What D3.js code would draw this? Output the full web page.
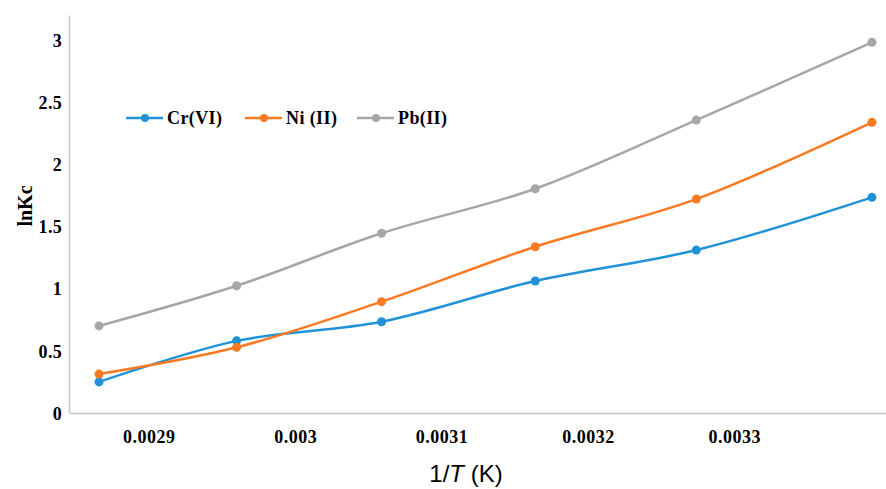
<!DOCTYPE html>
<html>
<head>
    <title>lnKc vs 1/T</title>
    <script src="https://d3js.org/d3.v7.min.js"></script>
    <style>
        body { margin: 0; background: #fff; }
        text { font-family: "Liberation Serif", "Times New Roman", serif; font-weight: bold; fill: #000; }
    </style>
</head>
<body>
    <svg id="chart" width="886" height="489"></svg>

    <script>
        // data
        const invT = [0.002866, 0.00296, 0.003059, 0.003164, 0.003274, 0.003394];
        const crVI = [0.25, 0.58, 0.734, 1.061, 1.31, 1.734];
        const niII = [0.313, 0.528, 0.895, 1.337, 1.72, 2.337];
        const pbII = [0.70, 1.023, 1.445, 1.803, 2.355, 2.98];
        const seriesNames = ["Cr(VI)", "Ni (II)", "Pb(II)"];
        const xTicks = [0.0029, 0.003, 0.0031, 0.0032, 0.0033];
        const yTicks = [0, 0.5, 1, 1.5, 2, 2.5, 3];

        const colors = ["#2192d8", "#fa7a24", "#a6a6a6"];
        const series = [crVI, niII, pbII].map((vals, i) => ({
            name: seriesNames[i],
            color: colors[i],
            points: vals.map((v, j) => ({ x: invT[j], y: v }))
        }));

        const svg = d3.select("#chart");
        const x = d3.scaleLinear().domain([0.0028455, 0.0034036]).range([69, 886]);
        const y = d3.scaleLinear().domain([0, 3.2]).range([413, 15]);

        // axes (no ticks, light grey lines)
        svg.append("g")
            .attr("transform", "translate(0,413)")
            .call(d3.axisBottom(x).tickValues(xTicks).tickSize(0).tickFormat(d => String(+d.toFixed(4))))
            .call(g => g.select(".domain").attr("stroke", "#c8c8c8").attr("stroke-width", 1.5))
            .call(g => g.selectAll("text")
                .attr("dy", 0).attr("y", 30)
                .style("font-size", "18px").style("letter-spacing", "0.5px")
                .style("font-family", "Liberation Serif, serif").style("font-weight", "bold").attr("fill", "#000"));

        svg.append("g")
            .attr("transform", "translate(69,0)")
            .call(d3.axisLeft(y).tickValues(yTicks).tickSize(0).tickFormat(d3.format("")))
            .call(g => g.select(".domain").attr("stroke", "#c8c8c8").attr("stroke-width", 1.5))
            .call(g => g.selectAll("text")
                .attr("x", -7).attr("dy", "0.35em")
                .style("font-size", "18px").style("letter-spacing", "0.3px")
                .style("font-family", "Liberation Serif, serif").style("font-weight", "bold").attr("fill", "#000"));

        // axis titles
        svg.append("text")
            .attr("transform", "translate(32,206) rotate(-90)")
            .attr("text-anchor", "middle")
            .style("font-size", "20px")
            .text("lnKc");

        const xt = svg.append("text")
            .attr("x", 466).attr("y", 482)
            .attr("text-anchor", "middle")
            .style("font-family", "Liberation Sans, Arial, sans-serif")
            .style("font-weight", "normal")
            .style("font-size", "24px");
        xt.append("tspan").text("1/");
        xt.append("tspan").style("font-style", "italic").text("T");
        xt.append("tspan").text(" (K)");

        // smoothed lines + markers
        const line = d3.line()
            .x(d => x(d.x))
            .y(d => y(d.y))
            .curve(d3.curveCatmullRom.alpha(0.5));

        const sg = svg.selectAll(".series")
            .data(series)
            .join("g")
            .attr("class", "series");

        sg.append("path")
            .attr("d", d => line(d.points))
            .attr("fill", "none")
            .attr("stroke", d => d.color)
            .attr("stroke-width", 2.5);

        sg.selectAll("circle")
            .data(d => d.points.map(p => ({ ...p, color: d.color })))
            .join("circle")
            .attr("cx", d => x(d.x))
            .attr("cy", d => y(d.y))
            .attr("r", 4.5)
            .attr("fill", d => d.color);

        // legend
        const legendX = [126, 245, 357];
        const legend = svg.selectAll(".legend")
            .data(series)
            .join("g")
            .attr("class", "legend")
            .attr("transform", (d, i) => "translate(" + legendX[i] + ",118)");

        legend.append("line")
            .attr("x1", 0).attr("x2", 37)
            .attr("stroke", d => d.color)
            .attr("stroke-width", 2.5);

        legend.append("circle")
            .attr("cx", 19).attr("r", 4)
            .attr("fill", d => d.color);

        legend.append("text")
            .attr("x", 41)
            .attr("dy", "0.35em")
            .style("font-size", "18px")
            .style("letter-spacing", "0.4px")
            .text(d => d.name);
    </script>
</body>
</html>
